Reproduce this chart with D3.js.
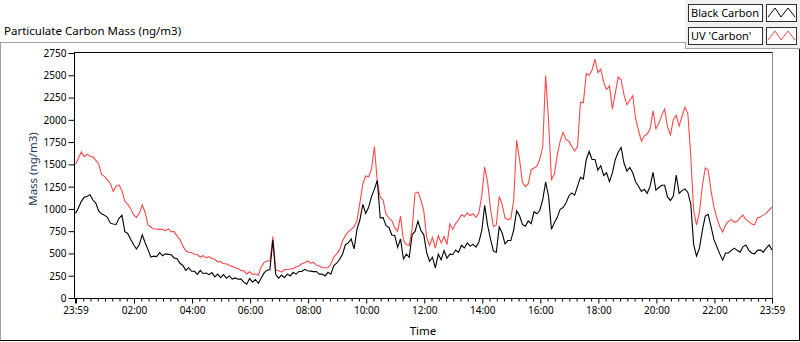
<!DOCTYPE html>
<html>
<head>
<meta charset="utf-8">
<script src="https://cdn.jsdelivr.net/npm/d3@7"></script>
<style>
  body { margin: 0; background: #fff; }
  text { font-family: "Noto Sans", "Open Sans", sans-serif; }
</style>
</head>
<body>
<script>
// sampling: one value every 6 minutes, from 23:59 to 23:59 next day
const startTime = "2024-01-01 23:59";
const stepMinutes = 6;

// Black Carbon (ng/m3)
const blackCarbon = [
  950,1010,1085,1130,1140,1160,1100,1065,975,945,
  930,905,840,830,825,895,930,745,725,660,
  600,550,600,710,620,540,460,470,465,510,
  475,495,490,485,450,440,390,365,310,340,
  300,300,265,310,275,280,262,285,238,268,
  228,262,222,248,212,225,210,215,178,155,
  218,178,208,165,225,282,312,318,650,262,
  222,258,228,268,248,288,268,298,298,322,
  305,302,296,298,268,270,248,288,268,365,
  392,432,492,598,618,662,552,772,878,1050,
  948,1018,1138,1222,1320,898,902,812,792,708,
  702,568,662,438,492,458,712,748,862,758,
  712,508,412,458,338,492,428,532,448,492,
  488,538,512,592,562,618,582,602,572,628,
  758,1040,818,662,528,512,798,732,608,645,
  645,765,978,925,825,805,865,835,968,945,
  985,1105,1300,1145,770,845,905,995,1015,1065,
  1145,1180,1155,1255,1355,1335,1555,1645,1555,1555,
  1435,1485,1375,1405,1305,1405,1555,1635,1690,1515,
  1425,1465,1405,1305,1255,1195,1220,1175,1255,1410,
  1210,1240,1265,1265,1135,1095,1145,1380,1175,1205,
  1225,1185,1060,600,470,560,760,920,940,800,
  655,575,495,425,505,505,535,560,535,515,
  575,595,535,505,495,535,540,515,560,595,
  540
];

// UV 'Carbon' (ng/m3)
const uvCarbon = [
  1500,1565,1640,1585,1615,1590,1585,1545,1505,1385,
  1365,1325,1285,1195,1255,1270,1205,1085,1050,1005,
  935,905,950,1045,960,820,795,775,775,770,
  770,755,775,745,745,695,655,585,530,510,
  510,490,485,460,475,450,465,440,435,405,
  410,385,385,365,355,340,330,310,305,270,
  295,265,270,255,350,400,415,415,690,315,
  305,290,320,320,325,330,350,360,385,395,
  415,390,400,370,360,340,340,340,385,460,
  495,540,640,700,745,770,800,870,1070,1280,
  1370,1360,1450,1700,1300,1130,1100,940,900,870,
  790,750,920,650,600,590,780,1175,1190,1100,
  980,680,590,680,560,700,620,690,600,830,
  770,835,875,935,915,955,925,945,905,955,
  1150,1470,1300,1000,800,820,1140,1050,900,880,
  890,1100,1770,1560,1300,1250,1280,1440,1460,1480,
  1560,1700,2500,2000,1330,1390,1600,1760,1860,1780,
  1760,1700,1650,1700,2200,2190,2520,2500,2560,2680,
  2530,2570,2420,2340,2380,2120,2300,2480,2450,2280,
  2170,2220,2270,2020,1880,1760,1820,1840,1900,2100,
  1900,1960,2050,2120,1920,1830,2000,2050,1930,2040,
  2140,2070,1600,980,820,960,1260,1460,1440,1200,
  1020,900,800,740,820,860,880,850,860,900,
  930,880,860,830,820,900,910,930,950,990,
  1020
];

const yTicks = [0,250,500,750,1000,1250,1500,1750,2000,2250,2500,2750];
const xTickLabels = ["23:59","02:00","04:00","06:00","08:00","10:00","12:00",
                     "14:00","16:00","18:00","20:00","22:00","23:59"];
const seriesNames = ["Black Carbon", "UV 'Carbon'"];
const seriesColors = ["#000000", "#ff4848"];

const width = 800, height = 342;
const plotLeft = 74, plotRight = 772, plotTop = 52, plotBottom = 298;

const parse = d3.timeParse("%Y-%m-%d %H:%M");
const t0 = parse(startTime);
const t1 = d3.timeDay.offset(t0, 1);
const timeAt = i => d3.timeMinute.offset(t0, i * stepMinutes);

let x = d3.scaleTime().domain([t0, t1]).range([plotLeft + 1.5, plotRight]);
let y = d3.scaleLinear().domain([0, 2750]).range([plotBottom, plotTop + 1]);

const svg = d3.select("body").append("svg")
    .attr("width", width)
    .attr("height", height);

// outer panel frame
svg.append("line").attr("x1", 0).attr("x2", 685).attr("y1", 42.5).attr("y2", 42.5).attr("stroke", "#a0a0a0");
svg.append("line").attr("x1", 0.5).attr("x2", 0.5).attr("y1", 42).attr("y2", 341).attr("stroke", "#a0a0a0");
svg.append("line").attr("x1", 0).attr("x2", 800).attr("y1", 340.5).attr("y2", 340.5).attr("stroke", "#000");
svg.append("line").attr("x1", 799.5).attr("x2", 799.5).attr("y1", 42).attr("y2", 341).attr("stroke", "#000");

svg.append("text")
    .attr("x", 4).attr("y", 35)
    .style("font-size", "11.5px")
    .text("Particulate Carbon Mass (ng/m3)");

// legend panel
svg.append("rect").attr("x", 685).attr("y", 0).attr("width", 115).attr("height", 48).attr("fill", "#f0f0f0");
svg.append("line").attr("x1", 685).attr("x2", 800).attr("y1", 48.5).attr("y2", 48.5).attr("stroke", "#a0a0a0");
svg.append("line").attr("x1", 685.5).attr("x2", 685.5).attr("y1", 42).attr("y2", 49).attr("stroke", "#a0a0a0");

const legend = svg.append("g").attr("id", "legend")
  .selectAll("g")
  .data(seriesNames)
  .enter()
  .append("g")
  .attr("transform", (d, i) => `translate(0,${i * 23})`);

legend.append("rect")
    .attr("x", 688.5).attr("y", 4.5).attr("width", 74).attr("height", 17)
    .attr("fill", "#fff").attr("stroke", "#303030");
legend.append("text")
    .attr("x", 691).attr("y", 17)
    .style("font-size", "11px")
    .text(d => d);
legend.append("rect")
    .attr("x", 766.5).attr("y", 4.5).attr("width", 30).attr("height", 17)
    .attr("fill", "#fff").attr("stroke", "#303030");
legend.append("polyline")
    .attr("points", "768,17 775,8 781,17 788,8 795,17")
    .attr("fill", "none")
    .attr("stroke", (d, i) => seriesColors[i]);

// plot frame
svg.append("line").attr("x1", plotLeft).attr("x2", plotRight + 1).attr("y1", plotTop + 0.5).attr("y2", plotTop + 0.5).attr("stroke", "#000");
svg.append("line").attr("x1", plotRight + 0.5).attr("x2", plotRight + 0.5).attr("y1", plotTop).attr("y2", plotBottom + 1).attr("stroke", "#8c8c8c");

// axes
let yAxis = d3.axisLeft(y).tickValues(yTicks).tickSize(6).tickPadding(2).tickFormat(d3.format("d"));
let majorTimes = [t0].concat(d3.range(2, 24, 2).map(h => d3.timeHour.offset(d3.timeDay.ceil(t0), h)), [t1]);
let minorTimes = d3.timeMinute.every(15).range(t0, t1)
    .filter(d => !(d.getMinutes() === 0 && d.getHours() % 2 === 0));
let xAxis = d3.axisBottom(x).tickValues(majorTimes).tickSize(5).tickPadding(3)
    .tickFormat((d, i) => xTickLabels[i]);
let xMinor = d3.axisBottom(x).tickValues(minorTimes).tickSize(3).tickFormat("");

const gy = svg.append("g")
    .attr("id", "y-axis")
    .attr("transform", `translate(${plotLeft + 0.5},0)`)
    .call(yAxis);
gy.select(".domain").attr("d", `M0,${plotTop}V${plotBottom + 1}`).attr("stroke", "#000");
gy.selectAll("text").style("font-size", "10px").attr("fill", "#000").attr("dy", "0.34em");
gy.selectAll("line").attr("stroke", "#000");

const gxm = svg.append("g")
    .attr("transform", `translate(0,${plotBottom + 0.5})`)
    .call(xMinor);
gxm.select(".domain").remove();

const gx = svg.append("g")
    .attr("id", "x-axis")
    .attr("transform", `translate(0,${plotBottom + 0.5})`)
    .call(xAxis);
gx.select(".domain").attr("d", `M${plotLeft},0H${plotRight + 1}`).attr("stroke", "#000");
gx.selectAll("text").style("font-size", "10px").attr("fill", "#000");
gx.selectAll(".tick line").filter((d, i) => i === 0).attr("stroke-width", 2);

svg.append("text")
    .attr("transform", `translate(37,${(plotTop + plotBottom) / 2 - 6}) rotate(-90)`)
    .style("text-anchor", "middle")
    .style("font-size", "11.5px")
    .attr("fill", "#1f3763")
    .text("Mass (ng/m3)");

svg.append("text")
    .attr("x", (plotLeft + plotRight) / 2)
    .attr("y", 335)
    .style("text-anchor", "middle")
    .style("font-size", "11.5px")
    .text("Time");

// series
let line = d3.line()
    .x((d, i) => x(timeAt(i)))
    .y(d => y(d));

svg.append("path")
    .datum(uvCarbon)
    .attr("fill", "none")
    .attr("stroke", seriesColors[1])
    .attr("stroke-width", 1.1)
    .attr("d", line);

svg.append("path")
    .datum(blackCarbon)
    .attr("fill", "none")
    .attr("stroke", seriesColors[0])
    .attr("stroke-width", 1.1)
    .attr("d", line);
</script>
</body>
</html>
